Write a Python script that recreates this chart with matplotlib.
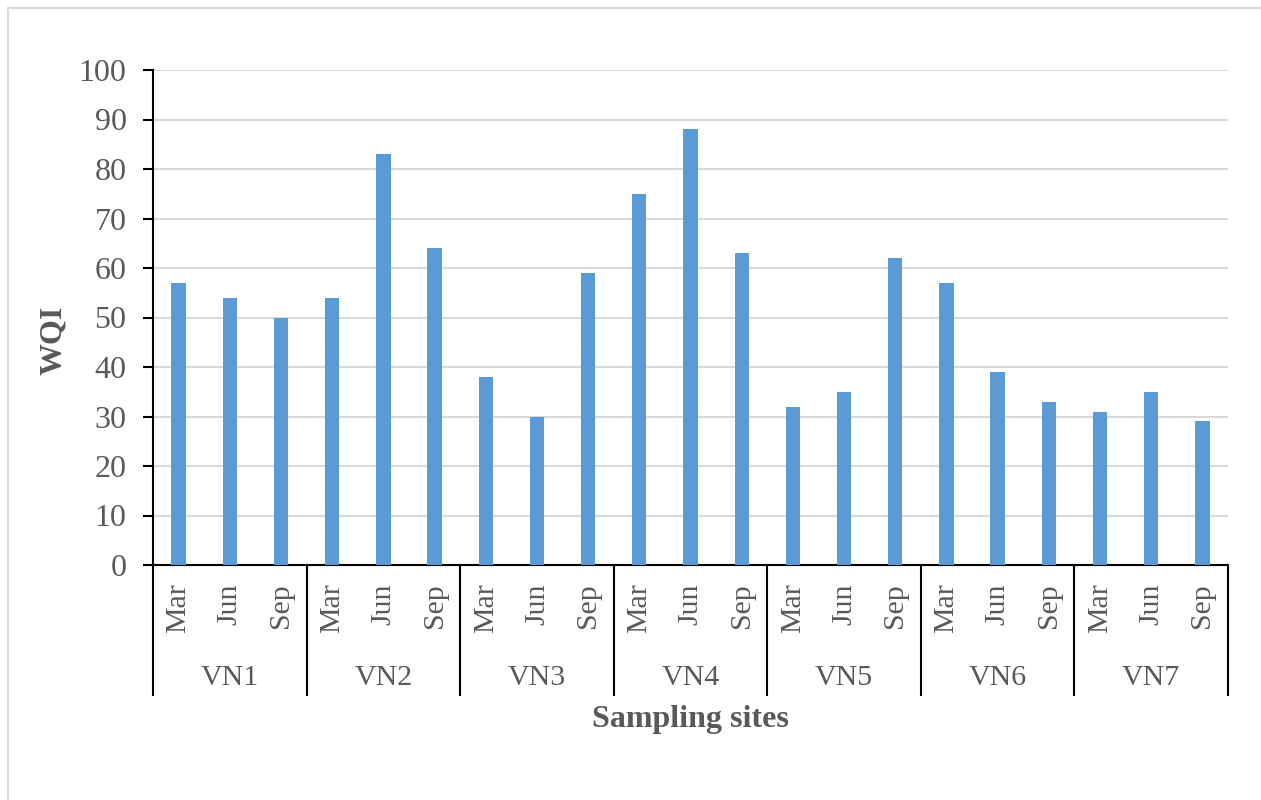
"""
WQI per sampling site and month, grouped bar chart with two-level category axis.
"""
import matplotlib
matplotlib.use('Agg')
import matplotlib.pyplot as plt
from matplotlib.patches import Rectangle
import numpy as np

# Data
sites = ['VN1', 'VN2', 'VN3', 'VN4', 'VN5', 'VN6', 'VN7']
months = ['Mar', 'Jun', 'Sep']
wqi_mar = [57, 54, 38, 75, 32, 57, 31]
wqi_jun = [54, 83, 30, 88, 35, 39, 35]
wqi_sep = [50, 64, 59, 63, 62, 33, 29]
y_ticks = [0, 10, 20, 30, 40, 50, 60, 70, 80, 90, 100]

plt.rcParams['font.family'] = ['Liberation Serif', 'DejaVu Serif']
TXT = '#595959'
BAR = '#5B9BD5'
FS = 21.5
FS_Y = 23
FS_TITLE = 23

W, H = 1261, 800
fig = plt.figure(figsize=(W / 100, H / 100), dpi=100)
ax = fig.add_axes([153 / W, 1 - 565 / H, (1228 - 153) / W, (565 - 70) / H])

# flatten site/month into one sequence of bars
values = []
labels = []
for i in range(len(sites)):
    for m, series in zip(months, [wqi_mar, wqi_jun, wqi_sep]):
        values.append(series[i])
        labels.append(m)
x = np.arange(len(values))

ax.bar(x, values, width=0.28, color=BAR, zorder=3)

ax.set_xlim(-0.5, len(values) - 0.5)
ax.set_ylim(0, 100)
ax.set_yticks(y_ticks)
ax.set_yticklabels([str(t) for t in y_ticks], fontsize=FS_Y, color=TXT)
ax.tick_params(axis='y', length=7, width=1.5, pad=12, color='black')
ax.yaxis.grid(True, color='#D9D9D9', linewidth=1.5, zorder=0)

ax.set_xticks(x)
ax.set_xticklabels(labels, rotation=90, fontsize=FS, color=TXT)
ax.tick_params(axis='x', length=0, pad=13)

for side in ['top', 'right']:
    ax.spines[side].set_visible(False)
for side in ['left', 'bottom']:
    ax.spines[side].set_linewidth(1.5)
    ax.spines[side].set_color('black')

# group separators and site labels below the month labels
trans = ax.get_xaxis_transform()
n = len(months)
for k in range(len(sites) + 1):
    xb = k * n - 0.5
    ax.plot([xb, xb], [0, -0.2626], transform=trans, color='black',
            linewidth=1.5, clip_on=False)
for k, s in enumerate(sites):
    ax.text(k * n + (n - 1) / 2, -0.228, s, transform=trans, ha='center',
            va='center', fontsize=FS, color=TXT)

# axis titles
fig.text(53 / W, 1 - 340 / H, 'WQI', rotation=90, ha='center', va='center',
         fontsize=FS_TITLE, fontweight='bold', color=TXT)
fig.text(690 / W, 1 - 720 / H, 'Sampling sites', ha='center', va='center',
         fontsize=FS_TITLE, fontweight='bold', color=TXT)

# chart area border (only top/left visible in the reference)
fig.patches.append(Rectangle((8 / W, -0.1), 2, 1 - 7.5 / H + 0.1,
                             transform=fig.transFigure, fill=False,
                             edgecolor='#D9D9D9', linewidth=1.5))

fig.savefig('out.png', dpi=100)
